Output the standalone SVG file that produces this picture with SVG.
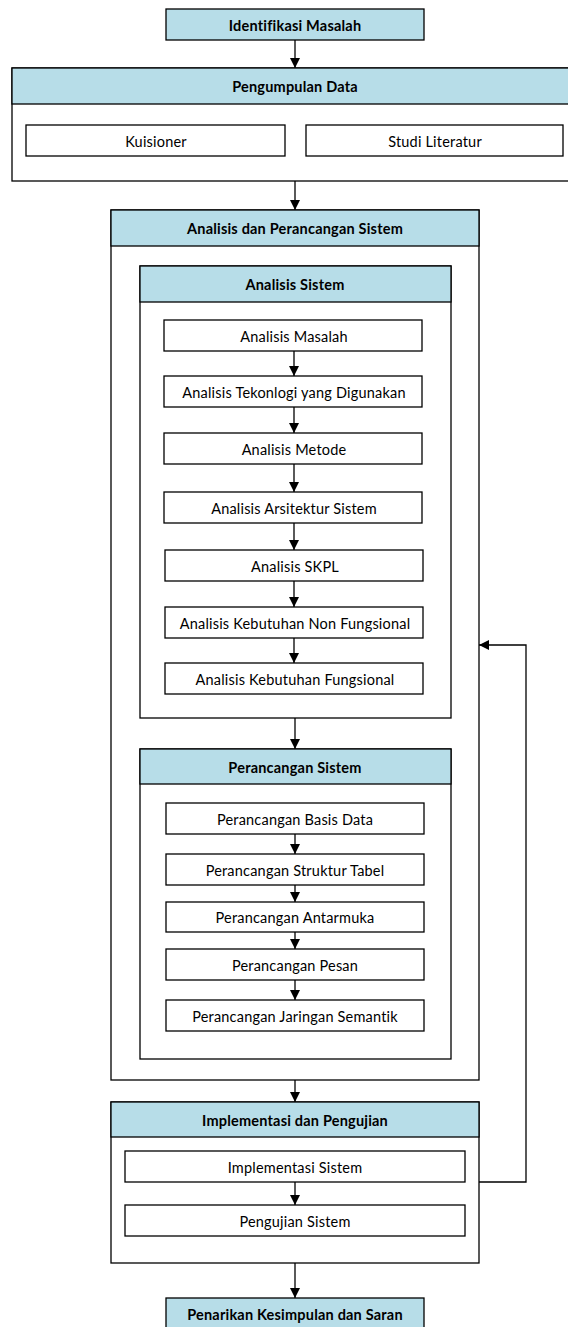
<svg xmlns="http://www.w3.org/2000/svg" width="568" height="1327" viewBox="0 0 568 1327">
<style>
rect{stroke:#000;stroke-width:1.3}
.h{fill:#b7dde8}
.w{fill:#fff}
text{font-family:Lato,"Liberation Sans",sans-serif;font-size:14.5px;letter-spacing:0.2px;text-anchor:middle;dominant-baseline:central;fill:#000}
.b{font-weight:bold}
.c{fill:none;stroke:#000;stroke-width:1.3}
</style>
<defs>
<marker id="a" viewBox="0 0 10 10" refX="10" refY="5" markerWidth="10" markerHeight="10" markerUnits="userSpaceOnUse" orient="auto"><path d="M0,0 L10,5 L0,10 z" fill="#000"/></marker>
</defs>
<g id="identifikasi"><rect class="h" x="166" y="9" width="258" height="31"/><text class="b" x="295" y="25">Identifikasi Masalah</text></g>
<g id="pengumpulan">
<rect class="w" x="12" y="68" width="570" height="113"/>
<rect class="h" x="12" y="68" width="570" height="36"/>
<text class="b" x="295" y="86">Pengumpulan Data</text>
<rect class="w" x="26" y="125" width="259" height="31"/><text x="156" y="141">Kuisioner</text>
<rect class="w" x="306" y="125" width="257" height="31"/><text x="435" y="141">Studi Literatur</text>
</g>
<g id="analisis-perancangan">
<rect class="w" x="111" y="210" width="368" height="870"/>
<rect class="h" x="111" y="210" width="368" height="36"/>
<text class="b" x="295" y="228">Analisis dan Perancangan Sistem</text>
</g>
<g id="analisis-sistem">
<rect class="w" x="140" y="266" width="311" height="452"/>
<rect class="h" x="140" y="266" width="311" height="36"/>
<text class="b" x="295" y="284">Analisis Sistem</text>
<rect class="w" x="164" y="320" width="258" height="31"/><text x="294" y="336">Analisis Masalah</text>
<rect class="w" x="164" y="376" width="258" height="31"/><text x="294" y="392">Analisis Tekonlogi yang Digunakan</text>
<rect class="w" x="164" y="433" width="258" height="31"/><text x="294" y="449">Analisis Metode</text>
<rect class="w" x="164" y="492" width="258" height="31"/><text x="294" y="508">Analisis Arsitektur Sistem</text>
<rect class="w" x="165" y="550" width="258" height="31"/><text x="295" y="566">Analisis SKPL</text>
<rect class="w" x="165" y="607" width="258" height="31"/><text x="295" y="623">Analisis Kebutuhan Non Fungsional</text>
<rect class="w" x="165" y="663" width="258" height="31"/><text x="295" y="679">Analisis Kebutuhan Fungsional</text>
</g>
<g id="perancangan-sistem">
<rect class="w" x="140" y="749" width="311" height="310"/>
<rect class="h" x="140" y="749" width="311" height="35"/>
<text class="b" x="295" y="767">Perancangan Sistem</text>
<rect class="w" x="166" y="803" width="258" height="31"/><text x="295" y="819">Perancangan Basis Data</text>
<rect class="w" x="166" y="854" width="258" height="31"/><text x="295" y="870">Perancangan Struktur Tabel</text>
<rect class="w" x="166" y="902" width="258" height="30"/><text x="295" y="917">Perancangan Antarmuka</text>
<rect class="w" x="166" y="949" width="258" height="31"/><text x="295" y="965">Perancangan Pesan</text>
<rect class="w" x="166" y="1000" width="258" height="31"/><text x="295" y="1016">Perancangan Jaringan Semantik</text>
</g>
<g id="implementasi">
<rect class="w" x="111" y="1102" width="368" height="161"/>
<rect class="h" x="111" y="1102" width="368" height="35"/>
<text class="b" x="295" y="1120">Implementasi dan Pengujian</text>
<rect class="w" x="125" y="1151" width="340" height="31"/><text x="295" y="1167">Implementasi Sistem</text>
<rect class="w" x="125" y="1205" width="340" height="31"/><text x="295" y="1221">Pengujian Sistem</text>
</g>
<g id="penarikan"><rect class="h" x="166" y="1298" width="258" height="35"/><text class="b" x="295" y="1314">Penarikan Kesimpulan dan Saran</text></g>
<g id="connectors">
<path class="c" marker-end="url(#a)" d="M295,40 V68"/>
<path class="c" marker-end="url(#a)" d="M295,181 V210"/>
<path class="c" marker-end="url(#a)" d="M294,351 V376"/>
<path class="c" marker-end="url(#a)" d="M294,407 V433"/>
<path class="c" marker-end="url(#a)" d="M294,464 V492"/>
<path class="c" marker-end="url(#a)" d="M294,523 V550"/>
<path class="c" marker-end="url(#a)" d="M294,581 V607"/>
<path class="c" marker-end="url(#a)" d="M294,638 V663"/>
<path class="c" marker-end="url(#a)" d="M295,718 V749"/>
<path class="c" marker-end="url(#a)" d="M295,834 V854"/>
<path class="c" marker-end="url(#a)" d="M295,885 V902"/>
<path class="c" marker-end="url(#a)" d="M295,932 V949"/>
<path class="c" marker-end="url(#a)" d="M295,980 V1000"/>
<path class="c" marker-end="url(#a)" d="M295,1080 V1102"/>
<path class="c" marker-end="url(#a)" d="M295,1182 V1205"/>
<path class="c" marker-end="url(#a)" d="M295,1263 V1298"/>
<path class="c" marker-end="url(#a)" d="M479,1182 H526 V645 H479"/>
</g>
</svg>
